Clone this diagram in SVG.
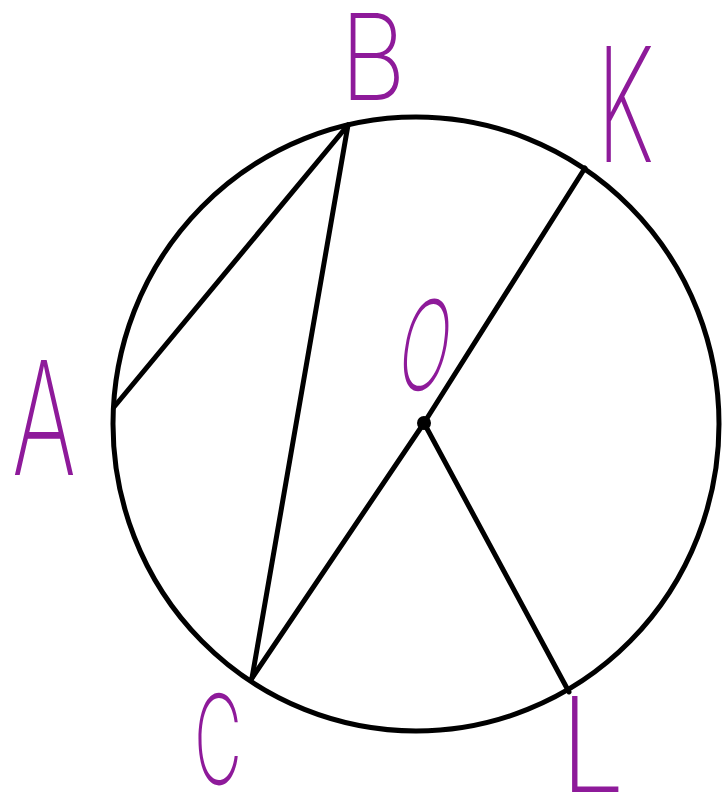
<svg xmlns="http://www.w3.org/2000/svg" width="722" height="802" viewBox="0 0 722 802">
<style>
.ln{stroke:#000;stroke-width:5;fill:none;stroke-linecap:round}
.lb{fill:#8e1a9a;font-family:Inter,"Liberation Sans",sans-serif;font-weight:200}
</style>
<rect width="722" height="802" fill="#fff"/>
<g id="circle"><ellipse class="ln" cx="416" cy="424" rx="303" ry="307"/></g>
<g id="connectors">
<line class="ln" x1="114" y1="407" x2="348" y2="125"/>
<line class="ln" x1="348" y1="125" x2="252" y2="678"/>
<line class="ln" x1="252" y1="678" x2="424" y2="423"/>
<line class="ln" x1="424" y1="423" x2="585" y2="168"/>
<line class="ln" x1="424" y1="423" x2="569" y2="692"/>
</g>
<g id="O"><circle cx="424" cy="423" r="7" fill="#000"/><text class="lb" x="394" y="390" font-size="124" textLength="50" lengthAdjust="spacingAndGlyphs" transform="skewX(-10) translate(68 0)">O</text></g>
<g id="A"><text class="lb" x="12" y="475" font-size="158" textLength="64" lengthAdjust="spacingAndGlyphs">A</text></g>
<g id="B"><text class="lb" x="340" y="100" font-size="120" textLength="66" lengthAdjust="spacingAndGlyphs">B</text></g>
<g id="K"><text class="lb" x="597" y="162" font-size="160" textLength="57" lengthAdjust="spacingAndGlyphs">K</text></g>
<g id="C"><text class="lb" x="194" y="784" font-size="124" textLength="48" lengthAdjust="spacingAndGlyphs">C</text></g>
<g id="L"><text class="lb" x="560" y="792" font-size="132" textLength="65" lengthAdjust="spacingAndGlyphs">L</text></g>
</svg>
